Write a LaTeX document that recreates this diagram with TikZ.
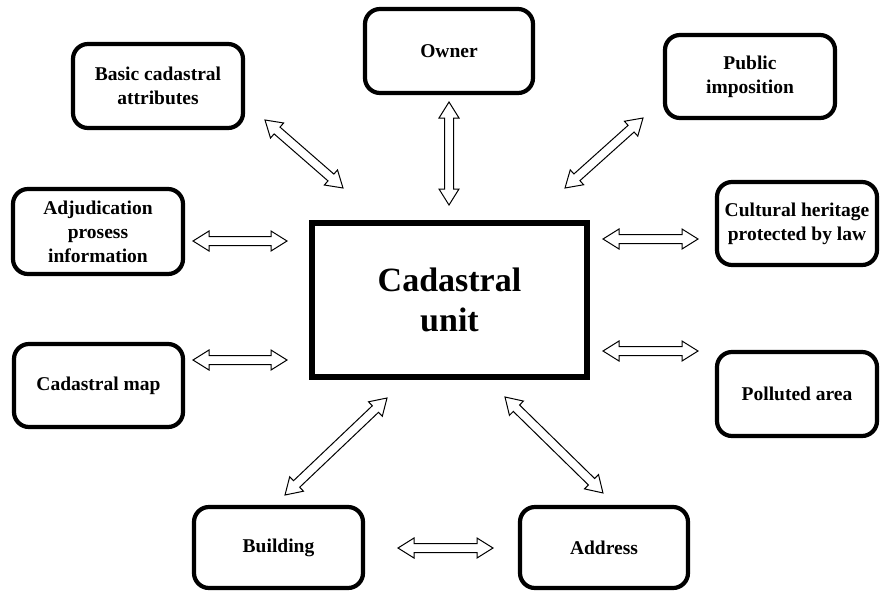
\documentclass[tikz,border=0pt]{standalone}
\usepackage{fontspec}
\setmainfont{Liberation Serif}
\usetikzlibrary{calc}
\tikzset{
  box/.style={draw, line width=4.2pt, rounded corners=15pt, align=center, inner sep=2pt,
    font=\fontsize{19.5}{24}\selectfont\bfseries},
  mainbox/.style={draw, line width=6pt, align=center,
    font=\fontsize{34}{40}\selectfont\bfseries},
  blockarrow/.style={draw, line width=1pt, fill=white, line join=miter}
}
\newcommand\blockarr[2]{%
  \path let \p1=($(#2)-(#1)$) in \pgfextra{%
    \pgfmathsetmacro\baangtmp{atan2(\y1,\x1)}%
    \pgfmathsetmacro\balentmp{veclen(\x1,\y1)}%
    \xdef\baang{\baangtmp}\xdef\balen{\balentmp}};
  \begin{scope}[shift={(#1)},rotate=\baang,x=1pt,y=1pt]
    \draw[blockarrow] (0,0) -- (16,10) -- (16,4.5) -- (\balen-16,4.5) -- (\balen-16,10)
      -- (\balen,0) -- (\balen-16,-10) -- (\balen-16,-4.5) -- (16,-4.5) -- (16,-10) -- cycle;
  \end{scope}}
\begin{document}
\begin{tikzpicture}[x=1pt,y=-1pt]
\useasboundingbox (0,0) rectangle (880,592);
% boxes
\node[box, minimum width=170pt, minimum height=84pt] (basic) at (158,86) {Basic cadastral\\attributes};
\node[box, minimum width=168pt, minimum height=84pt] (owner) at (449,51) {Owner};
\node[box, minimum width=170pt, minimum height=83pt] (public) at (750,76.5) {Public\\imposition};
\node[box, minimum width=170pt, minimum height=85pt] (adj) at (98,231.5) {Adjudication\\prosess\\information};
\node[box, minimum width=160pt, minimum height=83pt] (cult) at (797,223.5) {Cultural heritage\\protected by law};
\node[box, minimum width=169pt, minimum height=83pt] (map) at (98.5,385.5) {Cadastral map};
\node[box, minimum width=160pt, minimum height=84pt] (poll) at (797,394) {Polluted area};
\node[box, minimum width=169pt, minimum height=81pt] (build) at (278.5,547.5) {Building};
\node[box, minimum width=168pt, minimum height=81pt] (addr) at (604,547.5) {Address};
\node[mainbox, minimum width=275pt, minimum height=154pt] (unit) at (449.5,300) {Cadastral\\unit};
% arrow end points
\coordinate (a1) at (265,120); \coordinate (b1) at (343,188);
\coordinate (a2) at (449,102); \coordinate (b2) at (449,205);
\coordinate (a3) at (643,118); \coordinate (b3) at (565,188);
\coordinate (a4) at (193,241); \coordinate (b4) at (287,241);
\coordinate (a5) at (603,239); \coordinate (b5) at (698,239);
\coordinate (a6) at (193,360); \coordinate (b6) at (287,360);
\coordinate (a7) at (603,351); \coordinate (b7) at (698,351);
\coordinate (a8) at (387,398); \coordinate (b8) at (285,495);
\coordinate (a9) at (505,397); \coordinate (b9) at (603,493);
\coordinate (a10) at (398,548); \coordinate (b10) at (493,548);
\blockarr{a1}{b1}
\blockarr{a2}{b2}
\blockarr{a3}{b3}
\blockarr{a4}{b4}
\blockarr{a5}{b5}
\blockarr{a6}{b6}
\blockarr{a7}{b7}
\blockarr{a8}{b8}
\blockarr{a9}{b9}
\blockarr{a10}{b10}
\end{tikzpicture}
\end{document}
